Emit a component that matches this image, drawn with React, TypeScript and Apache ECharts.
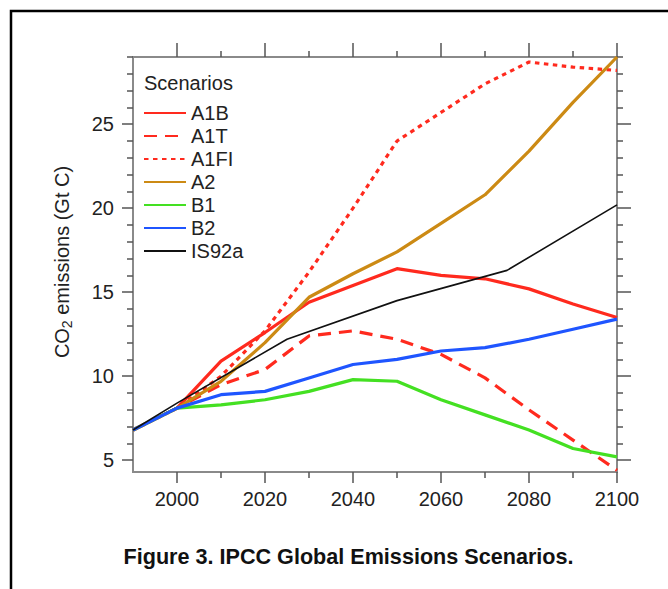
import React, { useEffect, useRef } from "react";
import * as echarts from "echarts";

const years = [1990, 2000, 2010, 2020, 2030, 2040, 2050, 2060, 2070, 2080, 2090, 2100];
const A1B = [6.8, 8.1, 10.9, 12.6, 14.4, 15.4, 16.4, 16.0, 15.8, 15.2, 14.3, 13.5];
const A1T = [6.8, 8.1, 9.5, 10.4, 12.4, 12.7, 12.2, 11.3, 9.9, 8.0, 6.2, 4.4];
const A1FI = [6.8, 8.1, 10.0, 12.7, 16.2, 20.0, 24.0, 25.7, 27.4, 28.7, 28.4, 28.2];
const A2 = [6.8, 8.1, 9.7, 12.0, 14.7, 16.1, 17.4, 19.1, 20.8, 23.4, 26.3, 29.0];
const B1 = [6.8, 8.1, 8.3, 8.6, 9.1, 9.8, 9.7, 8.6, 7.7, 6.8, 5.7, 5.2];
const B2 = [6.8, 8.1, 8.9, 9.1, 9.9, 10.7, 11.0, 11.5, 11.7, 12.2, 12.8, 13.4];
const is92aYears = [1990, 2000, 2025, 2050, 2075, 2100];
const IS92a = [6.8, 8.4, 12.2, 14.5, 16.3, 20.2];

const xMajorTicks = [2000, 2020, 2040, 2060, 2080, 2100];
const xMinorTicks = [2010, 2030, 2050, 2070, 2090];
const yMajorTicks = [5, 10, 15, 20, 25];
const yMinorTicks = [6, 7, 8, 9, 11, 12, 13, 14, 16, 17, 18, 19, 21, 22, 23, 24, 26, 27, 28, 29];

const FONT = "'Liberation Sans', Arial, Helvetica, sans-serif";
const RED = "#ff2a1e";
const ORANGE = "#cc8a14";
const GREEN = "#44e022";
const BLUE = "#1f55ff";
const BLACK = "#111111";

const pair = (xs: number[], ys: number[]) => xs.map((x, i) => [x, ys[i]]);

const axisLineStyle = { color: "#8a8a8a", width: 2 };
const tickStyle = { color: "#555555", width: 1.5 };

function makeAxis(
  dim: "x" | "y",
  position: string,
  ticks: number[],
  len: number,
  labels: boolean,
  margin: number
) {
  return {
    type: "value",
    position,
    min: dim === "x" ? 1990 : 4.3,
    max: dim === "x" ? 2100 : 29,
    axisLine: { show: true, onZero: false, lineStyle: axisLineStyle },
    axisTick: { show: true, inside: false, length: len, customValues: ticks, lineStyle: tickStyle },
    axisLabel: labels
      ? {
          show: true,
          customValues: ticks,
          fontSize: 20,
          color: "#222",
          margin,
          fontFamily: FONT,
          formatter: (v: number) => String(v),
        }
      : { show: false },
    splitLine: { show: false },
    minorTick: { show: false },
  };
}

function lineSeries(name: string, xs: number[], ys: number[], color: string, width: number, type: any) {
  return {
    name,
    type: "line",
    data: pair(xs, ys),
    symbol: "none",
    color,
    itemStyle: { color },
    lineStyle: { color, width, type, cap: "butt", join: "round" },
    xAxisIndex: 0,
    yAxisIndex: 0,
    z: 3,
  };
}

export default function App() {
  const ref = useRef<HTMLDivElement>(null);
  useEffect(() => {
    if (!ref.current) return;
    const chart = echarts.init(ref.current, null, { renderer: "svg" });
    chart.setOption({
      animation: false,
      backgroundColor: "#ffffff",
      textStyle: { fontFamily: FONT },
      grid: { left: 133, right: 51, top: 57, bottom: 117, containLabel: false },
      title: {
        text: "Scenarios",
        left: 144,
        top: 73,
        padding: 0,
        textStyle: { fontSize: 20, fontWeight: "normal", color: "#222", fontFamily: FONT },
      },
      legend: {
        orient: "vertical",
        left: 143,
        top: 103,
        padding: 0,
        itemWidth: 42,
        itemHeight: 14,
        itemGap: 3,
        itemStyle: { opacity: 0, borderWidth: 0 },
        textStyle: { fontSize: 20, color: "#222", fontFamily: FONT, lineHeight: 20 },
        data: ["A1B", "A1T", "A1FI", "A2", "B1", "B2", "IS92a"],
      },
      xAxis: [
        makeAxis("x", "bottom", xMajorTicks, 11, true, 17),
        makeAxis("x", "bottom", xMinorTicks, 6, false, 0),
        makeAxis("x", "top", xMajorTicks, 14, false, 0),
        makeAxis("x", "top", xMinorTicks, 6, false, 0),
      ],
      yAxis: [
        makeAxis("y", "left", yMajorTicks, 11, true, 19),
        makeAxis("y", "left", yMinorTicks, 6, false, 0),
        makeAxis("y", "right", yMajorTicks, 14, false, 0),
        makeAxis("y", "right", yMinorTicks, 6, false, 0),
      ],
      series: [
        lineSeries("A1B", years, A1B, RED, 3.2, "solid"),
        lineSeries("A1T", years, A1T, RED, 3.2, [13, 8]),
        lineSeries("A1FI", years, A1FI, RED, 3.2, [4.5, 4.5]),
        lineSeries("A2", years, A2, ORANGE, 3.2, "solid"),
        lineSeries("B1", years, B1, GREEN, 3.2, "solid"),
        lineSeries("B2", years, B2, BLUE, 3.2, "solid"),
        lineSeries("IS92a", is92aYears, IS92a, BLACK, 1.6, "solid"),
      ],
      graphic: [
        {
          type: "rect",
          shape: { x: 11, y: 11, width: 720, height: 700 },
          style: { stroke: "#000", lineWidth: 2.5, fill: "none" },
          silent: true,
          z: 0,
        },
        {
          type: "text",
          x: 62,
          y: 262,
          rotation: Math.PI / 2,
          style: {
            text: "{a|CO}{s|2}{a| emissions (Gt C)}",
            align: "center",
            verticalAlign: "middle",
            fill: "#222",
            rich: {
              a: { fontSize: 20, lineHeight: 24, fontFamily: FONT, fill: "#222", verticalAlign: "middle" },
              s: { fontSize: 14, lineHeight: 14, fontFamily: FONT, fill: "#222", verticalAlign: "bottom" },
            },
          },
        },
        {
          type: "text",
          x: 348.5,
          y: 556,
          style: {
            text: "Figure 3. IPCC Global Emissions Scenarios.",
            align: "center",
            verticalAlign: "middle",
            fontSize: 21.6,
            fontWeight: "bold",
            fontFamily: FONT,
            fill: "#111",
          },
        },
      ],
    });
    return () => chart.dispose();
  }, []);
  return (
    <div
      ref={ref}
      style={{ position: "fixed", left: 0, top: 0, width: 668, height: 589 }}
    />
  );
}
